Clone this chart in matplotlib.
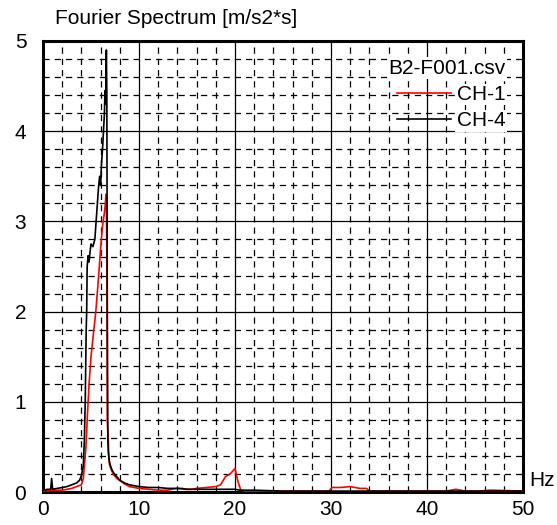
import numpy as np
import matplotlib.pyplot as plt
from matplotlib.ticker import MultipleLocator

# frequency axis [Hz] and spectrum amplitudes [m/s2*s]
freq_ch4 = [0.0, 0.5, 0.8, 0.9, 1.0, 1.5, 2.0, 2.5, 3.0, 3.5, 3.8, 4.0, 4.2, 4.3, 4.4,
            4.5, 4.55, 4.6, 4.7, 4.8, 4.9, 5.0, 5.2, 5.4, 5.6, 5.8, 5.9, 6.0, 6.1,
            6.2, 6.3, 6.4, 6.45, 6.5, 6.55, 6.6, 6.65, 6.7, 6.75, 6.8, 6.9, 7.0,
            7.2, 7.5, 7.7, 8.0, 8.5, 9.0, 10.0, 11.0, 12.0, 13.0, 14.0, 15.0,
            17.0, 20.0, 20.5, 22.0, 25.0, 30.0, 35.0, 40.0, 45.0, 50.0]
amp_ch4 = [0.02, 0.03, 0.03, 0.15, 0.03, 0.04, 0.05, 0.06, 0.08, 0.10, 0.13, 0.18, 0.30, 0.55, 1.00,
           1.80, 2.00, 2.50, 2.62, 2.55, 2.66, 2.75, 2.72, 2.80, 3.10, 3.40, 3.50, 3.40, 3.65,
           3.80, 4.00, 4.20, 4.45, 4.30, 4.50, 4.90, 4.40, 2.00, 0.60, 0.45, 0.35, 0.30,
           0.24, 0.19, 0.17, 0.13, 0.10, 0.08, 0.06, 0.05, 0.05, 0.04, 0.04, 0.03,
           0.03, 0.03, 0.02, 0.02, 0.01, 0.01, 0.01, 0.01, 0.01, 0.01]

freq_ch1 = [0.0, 1.0, 2.0, 3.0, 3.5, 4.0, 4.2, 4.4, 4.5, 4.6, 4.8, 5.0, 5.3, 5.5, 5.8,
            6.0, 6.2, 6.4, 6.5, 6.55, 6.6, 6.65, 6.7, 6.8, 6.85, 6.9, 7.0, 7.3, 7.7,
            8.5, 9.0, 10.0, 11.0, 12.0, 13.0, 13.9, 14.5, 15.0, 15.5, 16.0, 17.0,
            18.0, 18.5, 19.0, 19.5, 20.0, 20.3, 20.6, 21.0, 25.0, 29.8, 30.1, 31.0,
            32.0, 33.0, 33.7, 34.0, 38.0, 42.0, 43.0, 43.5, 44.0, 45.5, 46.5, 47.0,
            50.0]
amp_ch1 = [0.01, 0.02, 0.02, 0.04, 0.06, 0.08, 0.15, 0.40, 0.55, 0.80, 1.20, 1.50, 1.80, 2.00, 2.40,
           2.70, 2.95, 3.10, 3.20, 3.30, 3.25, 2.60, 0.80, 0.58, 0.40, 0.32, 0.28, 0.20, 0.15,
           0.09, 0.06, 0.04, 0.03, 0.02, 0.02, 0.04, 0.04, 0.03, 0.03, 0.04, 0.05,
           0.06, 0.08, 0.17, 0.20, 0.26, 0.12, 0.02, 0.01, 0.01, 0.01, 0.05, 0.05,
           0.06, 0.04, 0.04, 0.01, 0.01, 0.01, 0.03, 0.02, 0.01, 0.01, 0.02, 0.02,
           0.01]

plt.rcParams['font.family'] = ['Liberation Sans', 'DejaVu Sans']

fig = plt.figure(figsize=(5.57, 5.25), dpi=100)
ax = fig.add_axes([43/557, 1 - 492/525, 480/557, 451/525])

ax.plot(freq_ch1, amp_ch1, color='red', lw=1.2, label='CH-1', zorder=3)
ax.plot(freq_ch4, amp_ch4, color='black', lw=1.2, label='CH-4', zorder=4)

ax.set_xlim(0, 50)
ax.set_ylim(0, 5)
ax.xaxis.set_major_locator(MultipleLocator(10))
ax.xaxis.set_minor_locator(MultipleLocator(2))
ax.yaxis.set_major_locator(MultipleLocator(1))
ax.yaxis.set_minor_locator(MultipleLocator(0.2))
ax.grid(which='major', color='black', lw=0.9, ls='-')
ax.grid(which='minor', color='black', lw=0.9, ls=(0, (5, 4)))
ax.set_axisbelow(True)
ax.tick_params(which='both', length=0, labelsize=15)
ax.tick_params(axis='x', pad=6)
ax.tick_params(axis='y', pad=12)
for sp in ax.spines.values():
    sp.set_linewidth(2.2)

fig.text(55/557, 1 - 19/525, 'Fourier Spectrum [m/s2*s]', fontsize=15, va='center', ha='left')
ax.text(1.012, 0.025, 'Hz', transform=ax.transAxes, fontsize=15, va='center', ha='left')

leg = ax.legend(loc='upper right', title='B2-F001.csv', frameon=False, fontsize=15,
                title_fontsize=15, handlelength=2.6, handletextpad=0.25,
                borderaxespad=0.35, borderpad=0.5, labelspacing=0.35, alignment='right')
for t in leg.get_texts() + [leg.get_title()]:
    t.set_bbox(dict(facecolor='white', edgecolor='none', pad=1))

fig.savefig('out.png', dpi=100)
